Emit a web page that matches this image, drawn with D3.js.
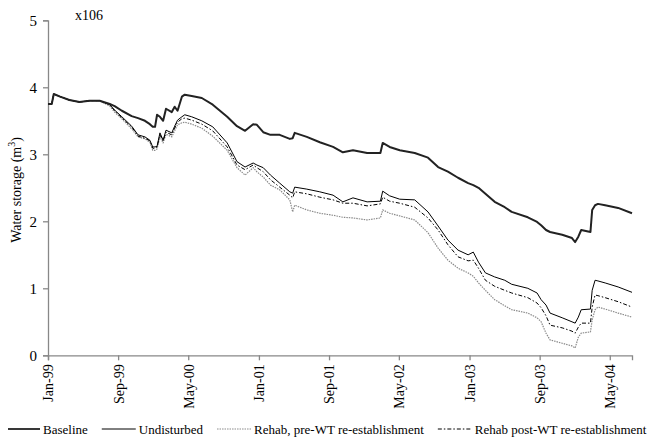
<!DOCTYPE html>
<html>
<head>
<meta charset="utf-8">
<script src="https://cdn.jsdelivr.net/npm/d3@7"></script>
<style>
  body { margin: 0; background: #fff; }
</style>
</head>
<body>
<svg id="chart" width="649" height="439"></svg>
<script>
const dates = ["1999-01-01","1999-01-14","1999-01-21","1999-02-12","1999-03-16","1999-04-20","1999-05-25","1999-06-29","1999-08-03","1999-08-20","1999-09-14","1999-10-18","1999-11-09","1999-12-03","1999-12-20","1999-12-30","2000-01-07","2000-01-14","2000-01-24","2000-02-04","2000-02-14","2000-03-05","2000-03-15","2000-03-25","2000-04-09","2000-04-19","2000-05-13","2000-06-17","2000-07-25","2000-09-13","2000-10-17","2000-11-14","2000-12-12","2000-12-25","2001-01-16","2001-02-10","2001-03-14","2001-04-18","2001-04-28","2001-05-05","2001-06-16","2001-07-31","2001-09-15","2001-10-19","2001-11-23","2002-01-11","2002-02-26","2002-03-06","2002-03-30","2002-05-04","2002-06-25","2002-08-10","2002-09-14","2002-10-18","2002-11-22","2002-12-27","2003-01-14","2003-02-01","2003-02-25","2003-03-29","2003-05-03","2003-05-27","2003-07-22","2003-08-23","2003-09-06","2003-09-23","2003-10-07","2003-11-18","2003-12-22","2004-01-02","2004-01-13","2004-01-23","2004-02-24","2004-03-01","2004-03-11","2004-03-21","2004-04-15","2004-05-30","2004-07-17"];

const baseline = [3.75,3.75,3.90,3.86,3.81,3.78,3.80,3.80,3.75,3.72,3.65,3.57,3.54,3.50,3.45,3.41,3.41,3.59,3.56,3.50,3.68,3.63,3.71,3.65,3.86,3.89,3.87,3.84,3.74,3.56,3.42,3.35,3.45,3.44,3.33,3.29,3.29,3.23,3.24,3.32,3.26,3.18,3.11,3.03,3.06,3.02,3.02,3.17,3.11,3.06,3.02,2.95,2.81,2.74,2.65,2.57,2.54,2.50,2.41,2.29,2.21,2.14,2.06,1.99,1.94,1.87,1.84,1.80,1.75,1.69,1.77,1.87,1.84,2.17,2.24,2.26,2.24,2.20,2.12];

const undisturbed = [3.75,3.75,3.90,3.86,3.81,3.78,3.80,3.80,3.74,3.66,3.56,3.42,3.29,3.26,3.21,3.11,3.11,3.12,3.32,3.21,3.36,3.32,3.42,3.51,3.56,3.59,3.56,3.50,3.41,3.17,2.89,2.81,2.87,2.84,2.80,2.69,2.57,2.44,2.42,2.51,2.48,2.44,2.39,2.29,2.35,2.29,2.30,2.45,2.38,2.33,2.32,2.14,1.93,1.72,1.57,1.50,1.54,1.39,1.23,1.17,1.12,1.06,1.00,0.93,0.83,0.75,0.63,0.56,0.50,0.48,0.57,0.68,0.69,0.97,1.12,1.11,1.08,1.02,0.94];

const rehabPre = [3.75,3.75,3.90,3.86,3.81,3.78,3.80,3.80,3.72,3.63,3.53,3.38,3.26,3.23,3.18,3.06,3.06,3.08,3.26,3.17,3.30,3.26,3.35,3.44,3.47,3.48,3.45,3.39,3.27,3.06,2.80,2.69,2.80,2.74,2.66,2.54,2.47,2.32,2.14,2.24,2.17,2.12,2.09,2.06,2.05,2.02,2.05,2.17,2.12,2.08,2.02,1.83,1.60,1.42,1.30,1.23,1.18,1.08,0.97,0.83,0.74,0.68,0.63,0.56,0.50,0.33,0.23,0.18,0.14,0.11,0.27,0.33,0.35,0.53,0.68,0.72,0.69,0.63,0.57];

const rehabPost = [3.75,3.75,3.90,3.86,3.81,3.78,3.80,3.80,3.74,3.65,3.54,3.41,3.27,3.24,3.20,3.09,3.09,3.11,3.29,3.20,3.33,3.29,3.39,3.48,3.53,3.54,3.51,3.45,3.35,3.11,2.84,2.77,2.84,2.80,2.74,2.62,2.51,2.39,2.35,2.44,2.41,2.36,2.32,2.27,2.27,2.23,2.26,2.36,2.30,2.27,2.21,2.05,1.87,1.65,1.47,1.41,1.42,1.30,1.12,1.03,0.97,0.93,0.86,0.78,0.71,0.59,0.45,0.41,0.36,0.33,0.42,0.48,0.48,0.72,0.90,0.89,0.86,0.80,0.72];

const xTickDates = ["1999-01-01","1999-09-01","2000-05-01","2001-01-01","2001-09-01","2002-05-01","2003-01-01","2003-09-01","2004-05-01"];
const xTickLabels = ["Jan-99","Sep-99","May-00","Jan-01","Sep-01","May-02","Jan-03","Sep-03","May-04"];
const yTicks = [0,1,2,3,4,5];
const seriesNames = ["Baseline","Undisturbed","Rehab, pre-WT re-establishment","Rehab post-WT re-establishment"];

// pick first installed serif family
function pickFont() {
  const cands = ["Liberation Serif", "Times New Roman", "Tinos", "Noto Serif", "DejaVu Serif", "FreeSerif"];
  const ctx = document.createElement("canvas").getContext("2d");
  const s = "Water storage Rehab, pre-WT re-establishment 0123";
  const w = f => { ctx.font = "20px " + f; return ctx.measureText(s).width; };
  const wm = w("monospace"), ws = w("sans-serif");
  for (const c of cands) {
    const a = w("'" + c + "', monospace"), b = w("'" + c + "', sans-serif");
    if (Math.abs(a - wm) > 0.5 && Math.abs(b - ws) > 0.01 || Math.abs(a - wm) > 0.5 && Math.abs(a - b) < 0.01) return "'" + c + "', serif";
  }
  return "serif";
}
const FONT = pickFont();

const parse = d3.timeParse("%Y-%m-%d");
const svg = d3.select("#chart").style("font-family", FONT);

const x = d3.scaleTime()
  .domain([parse("1999-01-01"), parse("2004-07-17")])
  .range([48, 632]);
const y = d3.scaleLinear().domain([0, 5]).range([355.3, 20.3]);

// axes
const yAxis = d3.axisLeft(y).tickValues(yTicks).tickSize(5).tickPadding(6).tickFormat(d3.format("d"));
const gy = svg.append("g").attr("transform", "translate(48,0)").call(yAxis).attr("font-family", FONT);
gy.select(".domain").attr("stroke", "#888").attr("stroke-width", 1.3);
gy.selectAll(".tick line").attr("stroke", "#888").attr("stroke-width", 1.3);
gy.selectAll(".tick text").style("font-family", FONT).style("font-size", "15px").attr("fill", "#000");

const xAxis = d3.axisBottom(x)
  .tickValues(xTickDates.map(parse))
  .tickSize(5)
  .tickFormat((d, i) => xTickLabels[i]);
const gx = svg.append("g").attr("transform", "translate(0,355.3)").call(xAxis).attr("font-family", FONT);
gx.select(".domain").attr("stroke", "#888").attr("stroke-width", 1.3);
gx.selectAll(".tick line").attr("stroke", "#888").attr("stroke-width", 1.3);
gx.selectAll(".tick text")
  .style("font-family", FONT)
  .style("font-size", "14px").attr("fill", "#000")
  .attr("text-anchor", "end")
  .attr("transform", "rotate(-90)")
  .attr("x", -9).attr("y", 0).attr("dy", "0.35em");

// axis title and multiplier
const yl = svg.append("text")
  .style("font-family", FONT)
  .attr("transform", "translate(21,190) rotate(-90)")
  .attr("text-anchor", "middle")
  .style("font-size", "14px");
yl.append("tspan").text("Water storage (m");
yl.append("tspan").text("3").attr("dy", "-6").style("font-size", "10px");
yl.append("tspan").text(")").attr("dy", "6");

svg.append("text").style("font-family", FONT).attr("x", 75).attr("y", 20).style("font-size", "14px").text("x106");

// series
const series = [
  { name: seriesNames[0], values: baseline, stroke: "#222", width: 2, dash: null },
  { name: seriesNames[1], values: undisturbed, stroke: "#000", width: 1, dash: null },
  { name: seriesNames[2], values: rehabPre, stroke: "#8a8a8a", width: 1.2, dash: "1.5,1" },
  { name: seriesNames[3], values: rehabPost, stroke: "#000", width: 1, dash: "4,2,1.5,2" }
];

const line = d3.line().x((d, i) => x(parse(dates[i]))).y(d => y(d));

[2, 3, 1, 0].forEach(k => {
  const s = series[k];
  svg.append("path")
    .attr("d", line(s.values))
    .attr("fill", "none")
    .attr("stroke", s.stroke)
    .attr("stroke-width", s.width)
    .attr("stroke-dasharray", s.dash)
    .attr("stroke-linejoin", "round");
});

// legend: laid out left to right, shrinks to fit the width
const ly = 429;
const legend = svg.append("g");
function layoutLegend(fs) {
  legend.selectAll("*").remove();
  let cx = 8;
  series.forEach((s, i) => {
    const sw = i === 0 ? 32 : 34;
    legend.append("line")
      .attr("x1", cx).attr("x2", cx + sw).attr("y1", ly).attr("y2", ly)
      .attr("stroke", s.stroke)
      .attr("stroke-width", i === 0 ? 1.8 : s.width)
      .attr("stroke-dasharray", s.dash);
    const t = legend.append("text").style("font-family", FONT)
      .attr("x", cx + sw + 3).attr("y", ly + 5).style("font-size", fs + "px").text(s.name);
    cx = cx + sw + 3 + t.node().getComputedTextLength() + 14;
  });
  return cx - 14;
}
let fs = 14;
while (layoutLegend(fs) > 647 && fs > 9) fs -= 0.5;
</script>
</body>
</html>
